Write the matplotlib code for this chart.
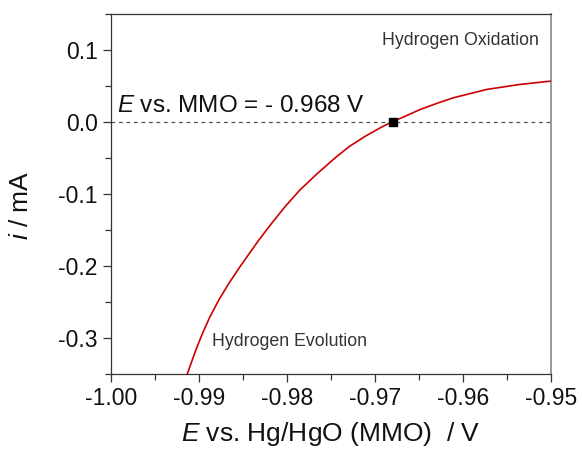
import matplotlib
matplotlib.use('Agg')
import matplotlib.pyplot as plt
import matplotlib.ticker as ticker

plt.rcParams['font.family'] = ['Liberation Sans', 'DejaVu Sans']
plt.rcParams['mathtext.fontset'] = 'custom'
plt.rcParams['mathtext.rm'] = 'Liberation Sans'
plt.rcParams['mathtext.it'] = 'Liberation Sans:italic'
plt.rcParams['axes.unicode_minus'] = False

# Curva de polarizacion (potencial vs. corriente)
potencial = [-0.99133, -0.99038, -0.98962, -0.98877, -0.98777, -0.98662,
             -0.98536, -0.98320, -0.98174, -0.98022, -0.97852, -0.97650,
             -0.97445, -0.97290, -0.97112, -0.96942, -0.96810, -0.96658,
             -0.96488, -0.96280, -0.96110, -0.95731, -0.95352, -0.95]
corriente = [-0.3499, -0.3174, -0.2941, -0.2710, -0.2477, -0.2244,
             -0.2013, -0.1640, -0.1407, -0.1176, -0.0943, -0.0710,
             -0.0490, -0.0339, -0.0199, -0.0082, 0.0, 0.0079,
             0.0173, 0.0266, 0.0336, 0.0452, 0.0522, 0.0568]

# Potencial de corriente cero
e_cero = [-0.968]
i_cero = [0.0]

x_ticks = [-1.00, -0.99, -0.98, -0.97, -0.96, -0.95]
y_ticks = [-0.3, -0.2, -0.1, 0.0, 0.1]

fig = plt.figure(figsize=(5.82, 4.5), dpi=100)
ax = fig.add_axes([0.1907, 0.1689, 0.7560, 0.8000])

ax.axhline(0, color='#555555', lw=0.9, ls=(0, (3, 3)), zorder=1)
ax.plot(potencial, corriente, color='#cc0000', lw=1.2, zorder=3)
ax.plot(e_cero, i_cero, 's', color='black', ms=5.3, zorder=4)

ax.set_xlim(-1.00, -0.95)
ax.set_ylim(-0.35, 0.15)
ax.set_xticks(x_ticks)
ax.set_yticks(y_ticks)
ax.xaxis.set_major_formatter(ticker.FormatStrFormatter('%.2f'))
ax.yaxis.set_major_formatter(ticker.FormatStrFormatter('%.1f'))
ax.xaxis.set_minor_locator(ticker.MultipleLocator(0.005))
ax.yaxis.set_minor_locator(ticker.MultipleLocator(0.05))
ax.tick_params(which='major', direction='out', length=6, width=0.9,
               colors='#333333', labelcolor='#111111', labelsize=16.5)
ax.tick_params(which='minor', direction='out', length=4, width=0.9, colors='#333333')

for lado in ['top', 'bottom', 'left']:
    ax.spines[lado].set_color('#333333')
    ax.spines[lado].set_linewidth(0.9)
ax.spines['right'].set_color('#888888')
ax.spines['right'].set_linewidth(1.2)

ax.set_xlabel(r'$E$ vs. Hg/HgO (MMO)  / V', fontsize=19, color='#111111', labelpad=7)
ax.set_ylabel(r'$i$ / mA', fontsize=19, color='#111111')
ax.yaxis.set_label_coords(-0.177, 0.469)

ax.text(-0.99935, 0.0145, r'$E$ vs. MMO = - 0.968 V', fontsize=17.5,
        color='#111111', va='baseline', ha='left')
ax.text(-0.96924, 0.1066, 'Hydrogen Oxidation', fontsize=12.8,
        color='#333333', va='baseline', ha='left')
ax.text(-0.98856, -0.3105, 'Hydrogen Evolution', fontsize=12.8,
        color='#333333', va='baseline', ha='left')

fig.savefig('out.png', dpi=100, facecolor='white')
